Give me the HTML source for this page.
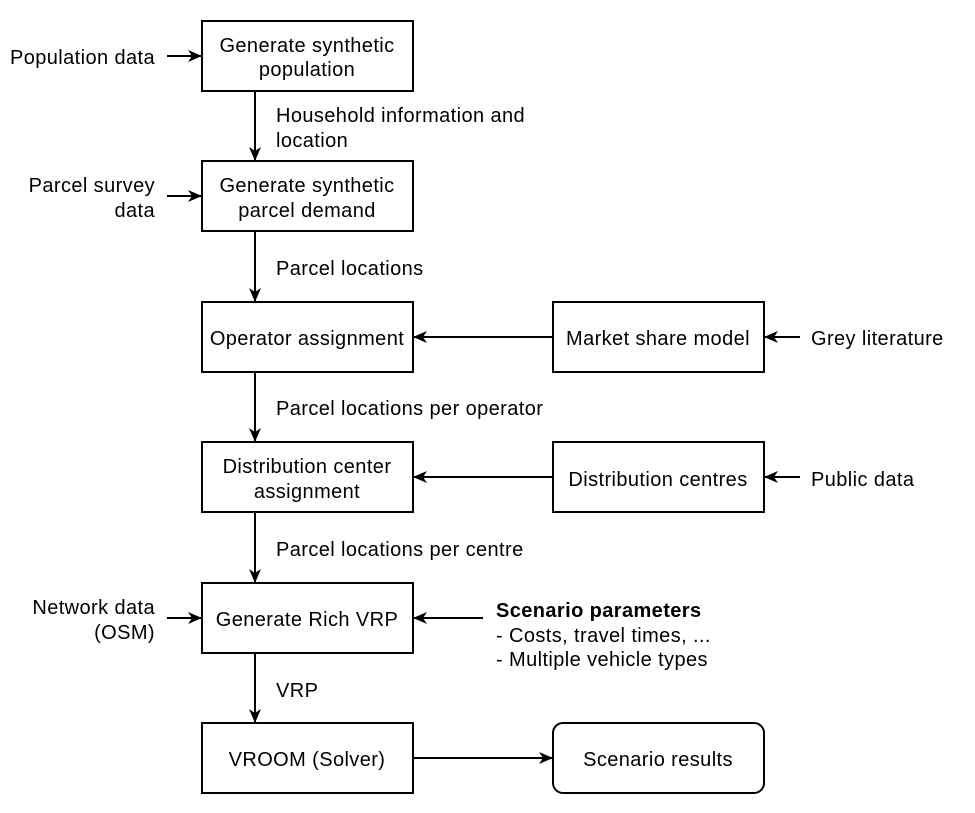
<!DOCTYPE html>
<html><head><meta charset="utf-8"><style>
html,body{margin:0;padding:0;background:#fff;}
svg{display:block;}
text{font-family:"Liberation Sans",Arial,sans-serif;font-size:20px;letter-spacing:0.4px;fill:#000;}
</style></head><body>
<svg width="975" height="813" viewBox="0 0 975 813" xmlns="http://www.w3.org/2000/svg">
<defs>
<marker id="a" markerWidth="14" markerHeight="12" refX="13" refY="6" orient="auto" markerUnits="userSpaceOnUse">
<path d="M0,0 L14,6 L0,12 L4,6 Z" fill="#000"/>
</marker>
</defs>
<g fill="#fff" stroke="#000" stroke-width="2">
<rect x="202" y="21" width="211" height="70"/>
<rect x="202" y="161" width="211" height="70"/>
<rect x="202" y="302" width="211" height="70"/>
<rect x="202" y="442" width="211" height="70"/>
<rect x="202" y="583" width="211" height="70"/>
<rect x="202" y="723" width="211" height="70"/>
<rect x="553" y="302" width="211" height="70"/>
<rect x="553" y="442" width="211" height="70"/>
<rect x="553" y="723" width="211" height="70" rx="10"/>
</g>
<g stroke="#000" stroke-width="2" marker-end="url(#a)">
<line x1="255" y1="91" x2="255" y2="160"/>
<line x1="255" y1="231" x2="255" y2="301"/>
<line x1="255" y1="372" x2="255" y2="441"/>
<line x1="255" y1="512" x2="255" y2="582"/>
<line x1="255" y1="653" x2="255" y2="722"/>
<line x1="167" y1="56" x2="201" y2="56"/>
<line x1="167" y1="196" x2="201" y2="196"/>
<line x1="167" y1="618" x2="201" y2="618"/>
<line x1="553" y1="337" x2="414" y2="337"/>
<line x1="553" y1="477" x2="414" y2="477"/>
<line x1="483" y1="618" x2="414" y2="618"/>
<line x1="800" y1="337" x2="765" y2="337"/>
<line x1="800" y1="477" x2="765" y2="477"/>
<line x1="413" y1="758" x2="552" y2="758"/>
</g>
<g text-anchor="middle">
<text x="307" y="52">Generate synthetic</text>
<text x="307" y="76">population</text>
<text x="307" y="192">Generate synthetic</text>
<text x="307" y="217">parcel demand</text>
<text x="307" y="345">Operator assignment</text>
<text x="307" y="473">Distribution center</text>
<text x="307" y="498">assignment</text>
<text x="307" y="626">Generate Rich VRP</text>
<text x="307" y="766">VROOM (Solver)</text>
<text x="658" y="345">Market share model</text>
<text x="658" y="486">Distribution centres</text>
<text x="658" y="766">Scenario results</text>
</g>
<g text-anchor="end">
<text x="155" y="64">Population data</text>
<text x="155" y="192">Parcel survey</text>
<text x="155" y="217">data</text>
<text x="155" y="614">Network data</text>
<text x="155" y="639">(OSM)</text>
</g>
<text x="276" y="122">Household information and</text>
<text x="276" y="147">location</text>
<text x="276" y="275">Parcel locations</text>
<text x="276" y="415">Parcel locations per operator</text>
<text x="276" y="556">Parcel locations per centre</text>
<text x="276" y="697">VRP</text>
<text x="811" y="345">Grey literature</text>
<text x="811" y="486">Public data</text>
<text x="496" y="617" font-weight="bold">Scenario parameters</text>
<text x="496" y="642">- Costs, travel times, ...</text>
<text x="496" y="666">- Multiple vehicle types</text>
</svg>
</body></html>
